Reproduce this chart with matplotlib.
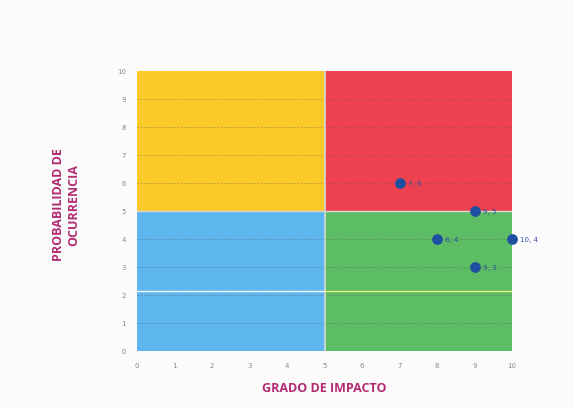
import matplotlib
matplotlib.use("Agg")
import matplotlib.pyplot as plt
from matplotlib.patches import Rectangle

# Data
impact = [7, 9, 8, 10, 9]
probability = [6, 5, 4, 4, 3]
labels = ["7, 6", "9, 5", "8, 4", "10, 4", "9, 3"]
x_ticks = list(range(0, 11))
y_ticks = list(range(0, 11))
quadrants = [  # (x0, y0, w, h, color)
    (0, 5, 5, 5, "#FBC92A"),
    (5, 5, 5, 5, "#EE4150"),
    (0, 0, 5, 5, "#5DB6EE"),
    (5, 0, 5, 5, "#5DBD65"),
]

fig = plt.figure(figsize=(5.74, 4.10), dpi=100)
fig.patch.set_facecolor("#FBFBFB")
ax = fig.add_axes([0.2387, 0.1415, 0.6533, 0.6829])
ax.set_facecolor("white")

for x0, y0, w, h, c in quadrants:
    ax.add_patch(Rectangle((x0, y0), w, h, facecolor=c, edgecolor="none", zorder=0))

for y in y_ticks[1:-1]:
    ax.axhline(y, color="#555555", lw=0.6, ls=(0, (2, 2)), alpha=0.45, zorder=1)
ax.axvline(5, color="#D8D8D8", lw=1.2, zorder=1)
ax.axhline(5, color="#D8D8D8", lw=1.0, zorder=1)
ax.plot([0, 5], [2.14, 2.14], color="#F4F8FF", lw=1.0, zorder=1)
ax.plot([5, 10], [2.14, 2.14], color="#E6EE80", lw=1.0, zorder=1)

ax.scatter(impact, probability, s=45, color="#1F4FA0", zorder=3, clip_on=False)
for xi, yi, t in zip(impact, probability, labels):
    ax.annotate(t, (xi, yi), xytext=(6, 0), textcoords="offset points",
                va="center", ha="left", fontsize=5, color="#2A4FA0", zorder=4,
                annotation_clip=False)

ax.set_xlim(0, 10)
ax.set_ylim(0, 10)
ax.set_xticks(x_ticks)
ax.set_yticks(y_ticks)
ax.tick_params(labelsize=5, colors="#888888", length=0, pad=8)
for s in ax.spines.values():
    s.set_visible(False)

fig.text(0.065 + 0.05, 0.5, "PROBABILIDAD DE\nOCURRENCIA", rotation=90, ha="center",
         va="center", fontsize=9, fontweight="bold", color="#B42A72",
         family="Open Sans", linespacing=1.3)
fig.text(0.5645, 0.053, "GRADO DE IMPACTO", ha="center", va="center", fontsize=9,
         fontweight="bold", color="#B42A72", family="Open Sans")

fig.savefig("out.png", dpi=100, facecolor=fig.get_facecolor())
